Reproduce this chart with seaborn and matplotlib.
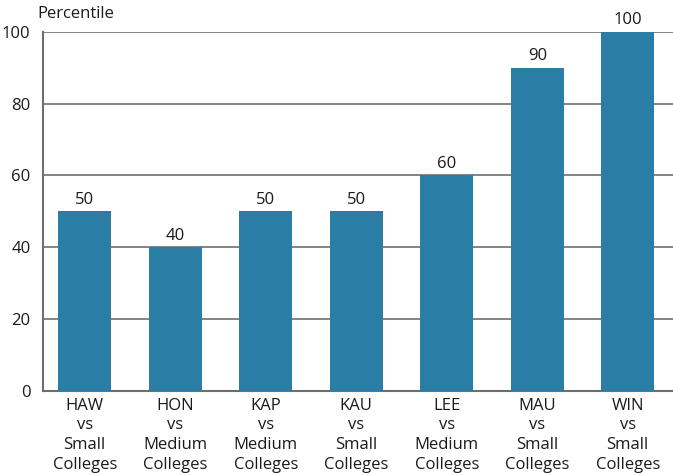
import matplotlib
matplotlib.use("Agg")
import matplotlib.pyplot as plt
import seaborn as sns
import pandas as pd

colleges = ["HAW", "HON", "KAP", "KAU", "LEE", "MAU", "WIN"]
groups = ["Small", "Medium", "Medium", "Small", "Medium", "Small", "Small"]
percentiles = [50, 40, 50, 50, 60, 90, 100]
y_ticks = [0, 20, 40, 60, 80, 100]

labels = [f"{c}\nvs\n{g}\nColleges" for c, g in zip(colleges, groups)]
df = pd.DataFrame({"label": labels, "percentile": percentiles})

sns.set_theme(style="white")
plt.rcParams["font.family"] = ["Open Sans", "DejaVu Sans"]

fig = plt.figure(figsize=(6.73, 4.75), dpi=100)
ax = fig.add_axes([0.064, 0.177, 0.936, 0.756])

bar_color = "#2a7ea6"
sns.barplot(data=df, x="label", y="percentile", color=bar_color,
            saturation=1, width=0.585, linewidth=0, ax=ax, zorder=3)

for p, v in zip(ax.patches, percentiles):
    ax.text(p.get_x() + p.get_width() / 2, v + 1.0, f"{v}",
            ha="center", va="bottom", fontsize=12, color="#1a1a1a")

ax.set_ylim(0, 100)
ax.set_xlim(-0.46, 6.5)
ax.set_yticks(y_ticks)
ax.yaxis.grid(True, color="#6e6e6e", linewidth=1.2, zorder=0)
ax.set_axisbelow(True)
ax.set_xlabel("")
ax.set_ylabel("")
ax.tick_params(axis="both", length=0, labelsize=12, colors="#1a1a1a")
ax.tick_params(axis="y", pad=9)
ax.tick_params(axis="x", pad=5)
for lbl in ax.get_xticklabels():
    lbl.set_linespacing(1.3)

for side in ["top", "right"]:
    ax.spines[side].set_visible(False)
for side in ["left", "bottom"]:
    ax.spines[side].set_color("#6e6e6e")
    ax.spines[side].set_linewidth(1.5)

fig.text(0.056, 0.953, "Percentile", fontsize=12, color="#1a1a1a",
         ha="left", va="bottom")

fig.savefig("out.png", dpi=100)
